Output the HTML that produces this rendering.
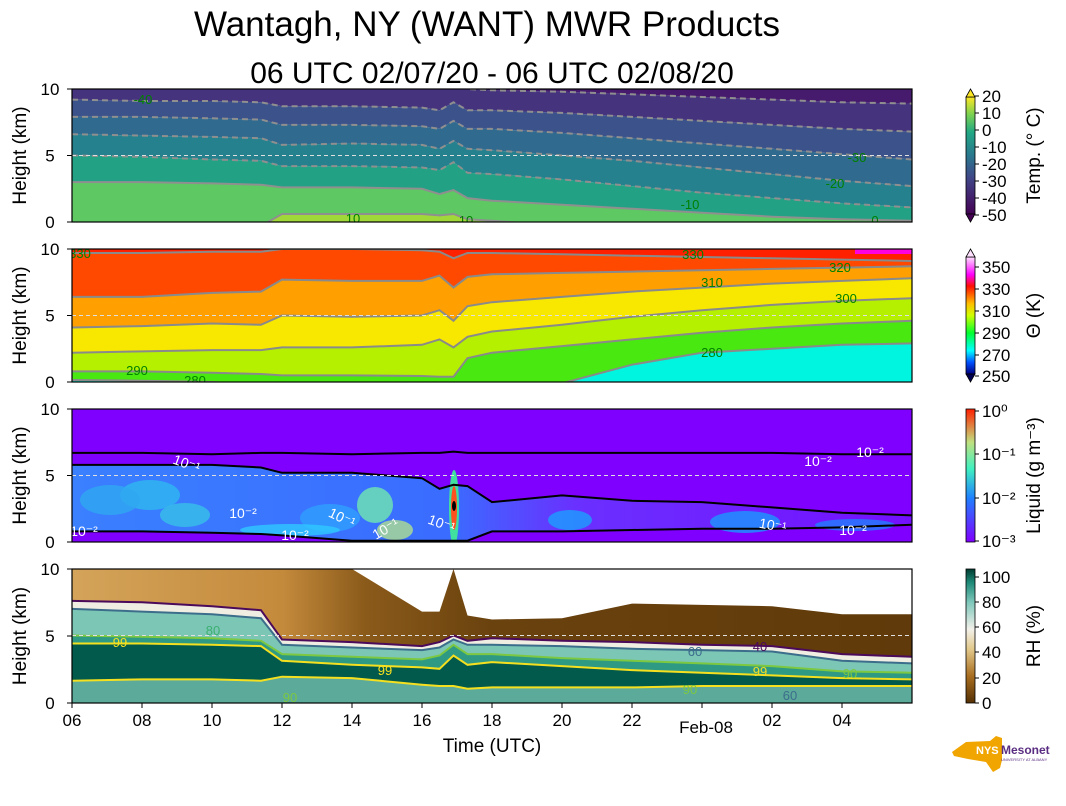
<!DOCTYPE html>
<html><head><meta charset="utf-8"><style>
body{margin:0;background:#fff;}
svg{display:block;font-family:"Liberation Sans","DejaVu Sans",sans-serif;}
</style></head><body>
<svg id="chart" width="1066" height="806" viewBox="0 0 1066 806" xmlns="http://www.w3.org/2000/svg">
<defs>
<linearGradient id="gTemp" x1="0" y1="0" x2="0" y2="1"><stop offset="0" stop-color="#fde725"/><stop offset="0.15" stop-color="#7ad151"/><stop offset="0.3" stop-color="#22a884"/><stop offset="0.5" stop-color="#2a788e"/><stop offset="0.7" stop-color="#414487"/><stop offset="1" stop-color="#440154"/></linearGradient>
<linearGradient id="gTheta" x1="0" y1="1" x2="0" y2="0"><stop offset="0" stop-color="#000080"/><stop offset="0.1" stop-color="#0050ff"/><stop offset="0.2" stop-color="#00ffff"/><stop offset="0.35" stop-color="#00ff30"/><stop offset="0.5" stop-color="#d0ff00"/><stop offset="0.6" stop-color="#ffc000"/><stop offset="0.75" stop-color="#ff1000"/><stop offset="0.85" stop-color="#ff00ff"/><stop offset="1" stop-color="#ffe0ff"/></linearGradient>
<linearGradient id="gLiq" x1="0" y1="1" x2="0" y2="0"><stop offset="0" stop-color="#8000ff"/><stop offset="0.33" stop-color="#2080ff"/><stop offset="0.55" stop-color="#40f0c0"/><stop offset="0.75" stop-color="#c0e080"/><stop offset="1" stop-color="#ff2000"/></linearGradient>
<linearGradient id="gRH" x1="0" y1="1" x2="0" y2="0"><stop offset="0" stop-color="#543005"/><stop offset="0.2" stop-color="#a86d1f"/><stop offset="0.4" stop-color="#e2c88a"/><stop offset="0.55" stop-color="#f2f0ea"/><stop offset="0.75" stop-color="#7fc8bb"/><stop offset="0.9" stop-color="#1e8a78"/><stop offset="1" stop-color="#003c30"/></linearGradient>
<linearGradient id="gRHtop" x1="0" y1="0" x2="1" y2="0"><stop offset="0" stop-color="#d4a45a"/><stop offset="0.25" stop-color="#c48a3c"/><stop offset="0.35" stop-color="#8a5a1a"/><stop offset="0.5" stop-color="#6a420e"/><stop offset="1" stop-color="#603a0a"/></linearGradient>
<linearGradient id="gLiqFill" x1="0" y1="0" x2="1" y2="0"><stop offset="0" stop-color="#3a80ff"/><stop offset="0.45" stop-color="#3a6cff"/><stop offset="0.6" stop-color="#6a30ff"/><stop offset="1" stop-color="#7410ff"/></linearGradient>
<clipPath id="c0"><rect x="72" y="89" width="840" height="133"/></clipPath>
<clipPath id="c1"><rect x="72" y="249" width="840" height="133"/></clipPath>
<clipPath id="c2"><rect x="72" y="409" width="840" height="133"/></clipPath>
<clipPath id="c3"><rect x="72" y="569" width="840" height="134"/></clipPath>
</defs>
<text x="487" y="36" font-size="35" text-anchor="middle">Wantagh, NY (WANT) MWR Products</text>
<text x="492" y="83" font-size="30" text-anchor="middle">06 UTC 02/07/20 - 06 UTC 02/08/20</text>
<g id="layers"></g>
</svg>
<script>
// hour offsets from 06 UTC
const hours = [0,2,4,5.4,6,8,10,10.5,10.9,11.3,12,14,16,18,20,22,24];
// Temperature contour heights (km)
const tM50 = [11,11,11,11,11,11,10.5,10.2,10.4,10.0,9.9,9.8,9.6,9.4,9.2,9.0,8.9];
const tM40 = [9.2,9.1,9.1,9.0,8.7,8.7,8.6,8.4,9.0,8.4,8.4,8.2,7.9,7.6,7.3,7.0,6.8];
const tM30 = [7.9,7.9,7.8,7.7,7.3,7.3,7.2,7.0,7.6,7.0,7.0,6.7,6.3,5.9,5.5,5.1,4.7];
const tM20 = [6.6,6.5,6.4,6.3,5.8,5.9,5.8,5.5,6.1,5.5,5.4,5.0,4.6,4.1,3.6,3.1,2.7];
const tM10 = [5.0,4.9,4.7,4.6,4.2,4.2,4.1,3.9,4.5,3.7,3.6,3.2,2.7,2.2,1.8,1.4,1.1];
const t0 = [3.0,3.0,2.9,2.8,2.6,2.6,2.5,2.1,2.4,1.8,1.6,1.3,1.0,0.7,0.4,0.2,0.1];
const t10 = [-0.5,-0.5,-0.5,-0.3,0.6,0.6,0.6,0.5,0.6,0.2,0.1,-0.3,-0.5,-0.5,-0.5,-0.5,-0.5];
// Potential temperature contours (km)
const th330 = [9.7,9.7,9.8,9.8,10,10,9.9,9.8,9.3,9.7,9.7,9.6,9.5,9.4,9.3,9.2,9.1];
const th320 = [6.4,6.4,6.7,6.8,7.7,7.6,7.6,8.0,7.1,7.9,8.1,8.2,8.3,8.4,8.5,8.6,8.7];
const th310 = [4.1,4.2,4.4,4.3,5.0,4.9,5.0,5.4,4.6,5.7,6.0,6.4,6.8,7.1,7.4,7.6,7.8];
const th300 = [2.2,2.3,2.4,2.4,2.6,2.6,2.8,3.2,2.6,3.4,3.8,4.3,4.9,5.4,5.8,6.1,6.3];
const th290 = [0.8,0.8,0.7,0.6,0.5,0.5,0.45,0.4,0.4,1.8,2.2,2.7,3.2,3.7,4.1,4.4,4.6];
const th280 = [0.15,0.1,0.0,-0.2,-0.3,-0.3,-0.3,-0.3,-0.3,-0.3,-0.3,-0.1,1.3,2.2,2.5,2.8,2.9];
// Liquid water contours (km)
const lqTop = [6.7,6.7,6.6,6.7,6.7,6.6,6.7,6.7,6.8,6.7,6.7,6.7,6.7,6.7,6.7,6.6,6.6];
const lqMid = [5.8,5.8,5.8,5.6,5.2,5.2,4.8,4.0,4.3,4.2,3.0,3.5,3.1,3.0,2.6,2.2,2.0];
const lqLow = [0.8,0.8,0.7,0.6,0.5,0.1,0.1,0.1,0.1,0.1,0.8,0.8,0.9,1.0,1.0,1.1,1.3];
// RH contours (km)
const rhMask = [10,10,10,10,10,10,6.8,6.8,10,6.5,6.2,6.3,7.4,7.3,7.2,6.6,6.6];
const rh40 = [7.6,7.5,7.2,6.9,4.7,4.5,4.2,4.5,5.0,4.6,4.8,4.6,4.5,4.3,4.2,3.6,3.4];
const rh60 = [7.0,6.8,6.6,6.3,4.3,4.1,3.9,4.1,4.7,4.3,4.3,4.2,4.0,3.9,3.8,3.1,2.9];
const rh90 = [5.0,4.9,4.8,4.6,3.6,3.4,3.2,3.5,4.3,3.6,3.6,3.3,3.1,2.9,2.7,2.3,2.2];
const rh99 = [4.4,4.4,4.3,4.2,3.1,2.8,2.6,2.5,3.5,2.8,3.0,2.7,2.4,2.2,2.0,1.8,1.7];
const rh99low = [1.6,1.7,1.7,1.6,1.9,1.8,1.3,1.2,1.2,1.0,1.1,1.1,1.1,1.2,1.2,1.2,1.2];
const xTickLabels = ["06","08","10","12","14","16","18","20","22","","02","04"];

const NS="http://www.w3.org/2000/svg";
const tops=[89,249,409,569];
const X0=72, X1=912;
function xs(h){return X0+h*(X1-X0)/24;}
function ys(p,km){return tops[p]+(10-km)*13.3;}
const root=document.getElementById('layers');
function mk(tag,attrs,parent){const e=document.createElementNS(NS,tag);for(const k in attrs)e.setAttribute(k,attrs[k]);(parent||root).appendChild(e);return e;}
function pts(p,arr){return arr.map((v,i)=>xs(hours[i]).toFixed(1)+','+ys(p,v).toFixed(1));}
function band(p,up,lo,fill,g,name){
  const a=pts(p,up), b=pts(p,lo).reverse();
  const e=mk('polygon',{points:a.concat(b).join(' '),fill:fill},g);
  
  
}
function line(p,arr,stroke,w,dash,g,name){
  const e=mk('polyline',{points:pts(p,arr).join(' '),fill:'none',stroke:stroke,'stroke-width':w},g);
  if(dash)e.setAttribute('stroke-dasharray',dash);
  
  
}
function lbl(x,y,t,col,size,g,name,rot){
  const e=mk('text',{x:x,y:y,fill:col,'font-size':size||13,'text-anchor':'middle'},g);
  if(rot)e.setAttribute('transform','rotate('+rot+' '+x+' '+y+')');
  e.textContent=t;
  
  
  return e;
}
const hi=hours.map(()=>11), lo=hours.map(()=>-1);

// ---------- Panel 0: temperature
let g=mk('g',{'clip-path':'url(#c0)'});


band(0,hi,tM50,'#461a6c',g,'temp-band-lt-50');
band(0,tM50,tM40,'#46337e',g,'temp-band-50-40');
band(0,tM40,tM30,'#3b528b',g,'temp-band-40-30');
band(0,tM30,tM20,'#306a8e',g,'temp-band-30-20');
band(0,tM20,tM10,'#26818e',g,'temp-band-20-10');
band(0,tM10,t0,'#22a184',g,'temp-band-10-0');
band(0,t0,t10,'#5ec962',g,'temp-band-0-10');
band(0,t10,lo,'#a0d83a',g,'temp-band-gt-10');
[[tM50,'6,4'],[tM40,'6,4'],[tM30,'6,4'],[tM20,'6,4'],[tM10,'6,4'],[t0,null],[t10,null]].forEach((c,i)=>line(0,c[0],'#8f8f8f',2,c[1],g,'temp-contour-'+i));
lbl(143,104,'-40','#008000',13,g,'temp-label-m40');lbl(857,162,'-30','#008000',13,g,'temp-label-m30');
lbl(835,188,'-20','#008000',13,g,'temp-label-m20');lbl(690,209,'-10','#008000',13,g,'temp-label-m10');
lbl(875,225,'0','#008000',13,g,'temp-label-0');lbl(353,223,'10','#008000',13,g,'temp-label-10');lbl(466,225,'10','#008000',13,g,'temp-label-10b');

// ---------- Panel 1: theta
g=mk('g',{'clip-path':'url(#c1)'});


band(1,hi,th330,'#ff2000',g,'theta-band-gt-330');
band(1,th330,th320,'#ff4800',g,'theta-band-320-330');
band(1,th320,th310,'#ffa000',g,'theta-band-310-320');
band(1,th310,th300,'#f8e800',g,'theta-band-300-310');
band(1,th300,th290,'#b4f000',g,'theta-band-290-300');
band(1,th290,th280,'#48e810',g,'theta-band-280-290');
band(1,th280,lo,'#00f5e0',g,'theta-band-lt-280');
mk('rect',{x:855,y:249,width:57,height:5,fill:'#ff00e0'},g);
[th330,th320,th310,th300,th290,th280].forEach((c,i)=>line(1,c,'#8a8a8a',2,null,g,'theta-contour-'+i));
lbl(693,259,'330','#008000',13,g,'theta-label-330');lbl(840,272,'320','#008000',13,g,'theta-label-320');
lbl(712,287,'310','#008000',13,g,'theta-label-310');lbl(846,303,'300','#008000',13,g,'theta-label-300');
lbl(712,357,'280','#008000',13,g,'theta-label-280');lbl(137,375,'290','#008000',13,g,'theta-label-290');
lbl(195,385,'280','#008000',13,g,'theta-label-280b');lbl(80,258,'330','#008000',13,g,'theta-label-330b');

// ---------- Panel 2: liquid
g=mk('g',{'clip-path':'url(#c2)'});


mk('rect',{x:72,y:409,width:840,height:133,fill:'#7f00ff'},g);
band(2,lqMid,lqLow,'url(#gLiqFill)',g,'liquid-cloud-region');
[[150,495,30,15,'#30b8f0'],[110,500,30,15,'#30a8f0'],[185,515,25,12,'#38c0e8'],[375,505,18,18,'#70e8b0'],[330,518,30,14,'#30a0ff'],[395,530,18,10,'#b0e090'],[290,530,50,6,'#30c8ff'],[570,520,22,10,'#1aa0ff'],[745,522,35,11,'#1a98ff'],[855,525,40,6,'#2080ff']].forEach((b,i)=>{
  const e=mk('ellipse',{cx:b[0],cy:b[1],rx:b[2],ry:b[3],fill:b[4],opacity:0.8},g);
  
  
});
mk('ellipse',{cx:454,cy:508,rx:5,ry:38,fill:'#40e0a0'},g);
mk('ellipse',{cx:454,cy:508,rx:3,ry:22,fill:'#ff5020'},g);
mk('ellipse',{cx:454,cy:506,rx:2,ry:5,fill:'#000'},g);
line(2,lqTop,'#000',2,null,g,'liquid-contour-top');
line(2,lqMid,'#000',2,null,g,'liquid-contour-mid');
line(2,lqLow,'#000',2,null,g,'liquid-contour-low');
[[185,468,'10⁻¹',20],[243,518,'10⁻²',0],[84,536,'10⁻²',0],[340,522,'10⁻¹',25],[295,540,'10⁻²',0],[388,533,'10⁻¹',-30],[440,528,'10⁻¹',20],[818,466,'10⁻²',0],[870,457,'10⁻²',0],[772,530,'10⁻¹',10],[853,535,'10⁻²',0]].forEach((l,i)=>lbl(l[0],l[1],l[2],'#fff',14,g,'liquid-label-'+i,l[3]));

// ---------- Panel 3: RH
g=mk('g',{'clip-path':'url(#c3)'});


band(3,hi,rh40,'url(#gRHtop)',g,'rh-band-lt-40');
band(3,rh40,rh60,'#f0eee2',g,'rh-band-40-60');
band(3,rh60,rh90,'#7cc6b6',g,'rh-band-60-90');
band(3,rh90,rh99,'#2e9a84',g,'rh-band-90-99');
band(3,rh99,rh99low,'#015a4c',g,'rh-band-gt-99');
band(3,rh99low,lo,'#5caa9a',g,'rh-band-lower');
band(3,hi,rhMask,'#ffffff',g,'rh-missing-mask');
line(3,rh40,'#4b0a5a',2,null,g,'rh-contour-40');
line(3,rh60,'#3c6e8c',2,null,g,'rh-contour-60');
line(3,rh90,'#7cc840',2,null,g,'rh-contour-90');
line(3,rh99,'#f5e020',2,null,g,'rh-contour-99');
line(3,rh99low,'#f5e020',2,null,g,'rh-contour-99-low');
lbl(120,647,'99','#f5e020',13,g,'rh-label-99');lbl(213,635,'80','#3cb070',13,g,'rh-label-80');
lbl(695,656,'60','#3c6e8c',13,g,'rh-label-60');lbl(760,651,'40','#4b0a5a',13,g,'rh-label-40');
lbl(760,676,'99','#f5e020',13,g,'rh-label-99b');lbl(385,675,'99','#f5e020',13,g,'rh-label-99c');
lbl(850,678,'90','#7cc840',13,g,'rh-label-90');lbl(790,700,'60','#3c6e8c',13,g,'rh-label-60b');
lbl(290,702,'90','#7cc840',13,g,'rh-label-90b');lbl(690,694,'90','#7cc840',13,g,'rh-label-90c');

// ---------- axes frames, dashed 5km, y ticks
const ylabs=['Height (km)','Height (km)','Height (km)','Height (km)'];
for(let p=0;p<4;p++){
  const t=tops[p], h=p==3?134:133;
  const d=mk('line',{x1:X0,x2:X1,y1:t+66.5,y2:t+66.5,stroke:'#e0e0e0','stroke-width':1,'stroke-dasharray':'4,3'});
  
  
  const r=mk('rect',{x:X0,y:t,width:X1-X0,height:h,fill:'none',stroke:'#000','stroke-width':1.2});
  
  
  [0,5,10].forEach(v=>{
    const yy=t+(10-v)*h/10;
    mk('line',{x1:X0-5,x2:X0,y1:yy,y2:yy,stroke:'#000'});
    lbl(50,yy+6,String(v),'#000',17,null,'y-tick-label-'+p+'-'+v);
  });
  lbl(26,t+h/2,ylabs[p],'#000',19,null,'y-axis-title-'+p,-90);
}
// x ticks
xTickLabels.forEach((s,i)=>{
  const x=xs(i*2);
  mk('line',{x1:x,x2:x,y1:703,y2:708,stroke:'#000'});
  if(s)lbl(x,726,s,'#000',17,null,'x-tick-label-'+s);
});
lbl(xs(18)+4,733,'Feb-08','#000',17,null,'x-tick-label-feb08');
lbl(492,752,'Time (UTC)','#000',19,null,'x-axis-title');

// ---------- colorbars
const cbs=[
 {t:89,h:133,fill:'url(#gTemp)',ext:true,top:'#fde725',bot:'#440154',labs:['20','10','0','-10','-20','-30','-40','-50'],ys:[96,113,130,147,164,181,198,215],title:'Temp. (° C)'},
 {t:249,h:133,fill:'url(#gTheta)',ext:true,top:'#ffe0ff',bot:'#000050',labs:['350','330','310','290','270','250'],ys:[267,289,311,333,355,376],title:'Θ (K)'},
 {t:409,h:133,fill:'url(#gLiq)',ext:false,labs:['10⁰','10⁻¹','10⁻²','10⁻³'],ys:[411,454,498,541],title:'Liquid (g m⁻³)'},
 {t:569,h:134,fill:'url(#gRH)',ext:false,labs:['100','80','60','40','20','0'],ys:[577,602,627,652,678,703],title:'RH (%)'}
];
cbs.forEach((c,i)=>{
  const gg=mk('g',{});
  
  
  const t=c.ext?c.t+8:c.t, h=c.ext?c.h-16:c.h;
  mk('rect',{x:966,y:t,width:9,height:h,fill:c.fill,stroke:'#000','stroke-width':0.8},gg);
  if(c.ext){
    mk('polygon',{points:`966,${t} 975,${t} 970.5,${c.t}`,fill:c.top,stroke:'#000','stroke-width':0.8},gg);
    mk('polygon',{points:`966,${t+h} 975,${t+h} 970.5,${c.t+c.h}`,fill:c.bot,stroke:'#000','stroke-width':0.8},gg);
  }
  c.labs.forEach((s,j)=>{
    mk('line',{x1:975,x2:979,y1:c.ys[j],y2:c.ys[j],stroke:'#000'},gg);
    const e=lbl(982,c.ys[j]+6,s,'#000',17,gg,'colorbar-tick-'+i+'-'+j);
    e.setAttribute('text-anchor','start');
  });
  lbl(1040,c.t+c.h/2,c.title,'#000',19,gg,'colorbar-title-'+i,-90);
});
// logo
const lg=mk('g',{});


mk('polygon',{points:'952,752 966,742 990,741 996,736 1002,738 1002,760 1000,768 993,772 986,762 968,759 954,756',fill:'#f0a500'},lg);
const lt=mk('text',{x:976,y:754,'font-size':11,'font-weight':'bold',fill:'#fff'},lg);lt.textContent='NYS';
const lt2=mk('text',{x:1001,y:754,'font-size':12,'font-weight':'bold',fill:'#5a2d82'},lg);lt2.textContent='Mesonet';
const lt3=mk('text',{x:1001,y:761,'font-size':4,fill:'#5a2d82'},lg);lt3.textContent='UNIVERSITY AT ALBANY';
</script>
</body></html>
